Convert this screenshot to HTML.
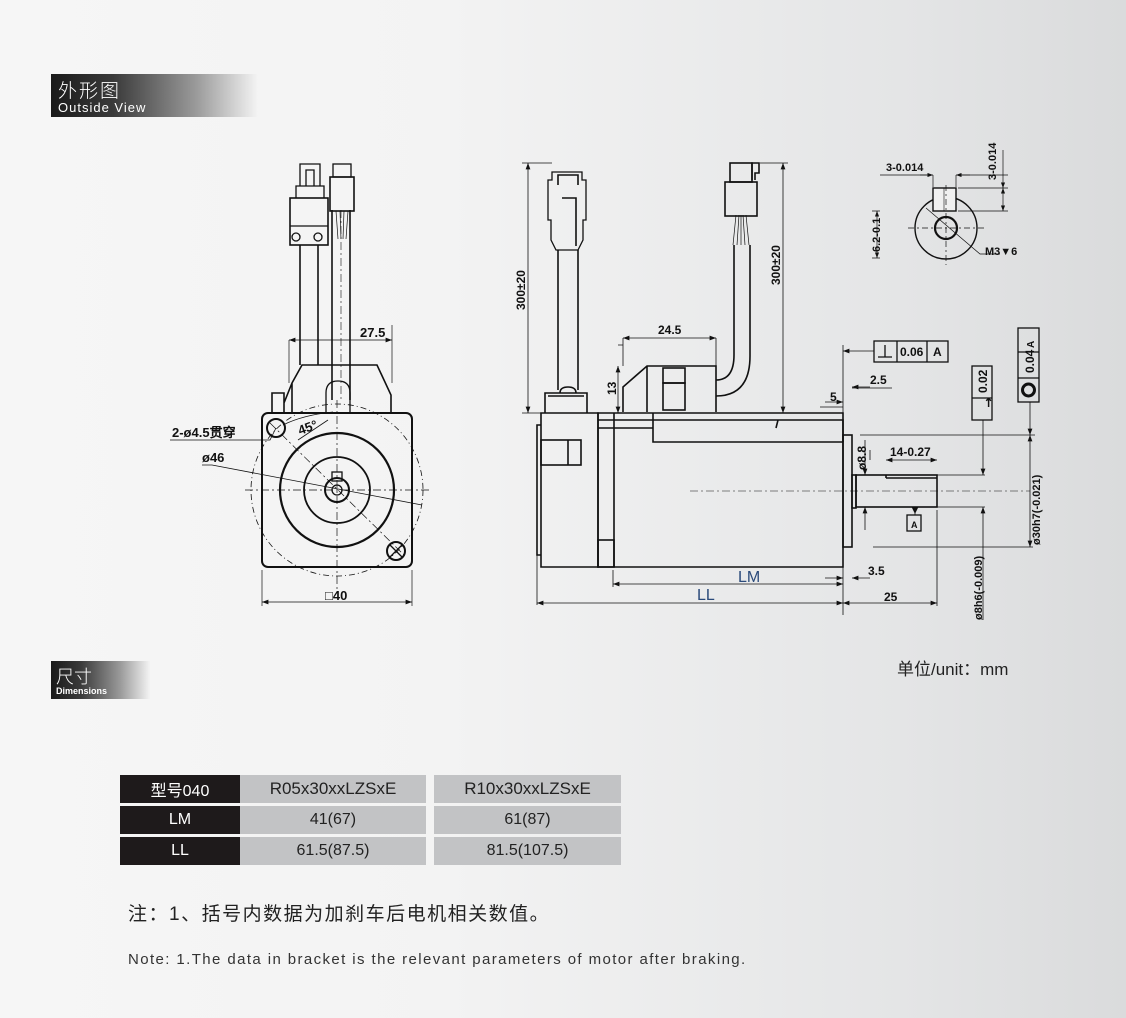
<!DOCTYPE html>
<html><head><meta charset="utf-8"><style>
html,body{margin:0;padding:0}
body{width:1126px;height:1018px;overflow:hidden;background:linear-gradient(90deg,#f6f6f6 0%,#f3f3f3 40%,#e4e5e6 80%,#dadbdc 100%);font-family:"Liberation Sans","Noto Sans CJK SC",sans-serif;position:relative}
.hdr{position:absolute;background:linear-gradient(90deg,#1a1a1a 0%,#3a3a3a 30%,#9a9a9a 70%,#f4f4f4 100%);color:#fff}
table{position:absolute;left:120px;top:772px;border-collapse:separate;border-spacing:0 3px;font-size:16px}
td{height:28px;text-align:center;padding:0}
.k{background:#1e1a1b;color:#fff;width:120px}
.g{background:#c2c3c5;color:#222}
</style></head><body>
<div class="hdr" style="left:51px;top:74px;width:207px;height:43px">
<div style="position:absolute;left:7px;top:2px;font-size:19px;font-family:'Noto Sans CJK SC',sans-serif;font-weight:300;letter-spacing:2px">外形图</div>
<div style="position:absolute;left:7px;top:26px;font-size:13px;letter-spacing:1px">Outside View</div></div>
<div class="hdr" style="left:51px;top:661px;width:99px;height:38px">
<div style="position:absolute;left:5px;top:2px;font-size:18px;font-family:'Noto Sans CJK SC',sans-serif;font-weight:300">尺寸</div>
<div style="position:absolute;left:5px;top:25px;font-size:9px;font-weight:bold">Dimensions</div></div>

<svg width="1126" height="1018" style="position:absolute;left:0;top:0" font-family="Liberation Sans Narrow,Liberation Sans,sans-serif" font-weight="bold" fill="none" stroke="#111">
<defs><marker id="a" markerWidth="8" markerHeight="6" refX="8" refY="3" orient="auto-start-reverse"><path d="M0,0L8,3L0,6" fill="#111" stroke="none"/></marker></defs>
<g stroke-width="1.3">
<rect x="262" y="413" width="150" height="154" rx="6" stroke-width="2"/>
<circle cx="337" cy="490" r="86" stroke-dasharray="6,3,1,3" stroke-width="0.8"/>
<circle cx="337" cy="490" r="57" stroke-width="2.2"/>
<circle cx="337" cy="490" r="33" stroke-width="1.8"/>
<circle cx="337" cy="490" r="12" stroke-width="2"/>
<circle cx="337" cy="490" r="5"/>
<rect x="332" y="472" width="10" height="9"/>
<line x1="337" y1="400" x2="337" y2="590" stroke-dasharray="8,3,2,3" stroke-width="0.7"/>
<line x1="245" y1="490" x2="430" y2="490" stroke-dasharray="8,3,2,3" stroke-width="0.7"/>
<line x1="270" y1="423" x2="405" y2="556" stroke-dasharray="8,3,2,3" stroke-width="0.7"/>
<circle cx="276" cy="428" r="9" stroke-width="2"/>
<circle cx="396" cy="551" r="9" stroke-width="2"/>
<path d="M390 545l12 12M402 545l-12 12"/>
<path d="M272 413v-20h12v20M284 403l8-20v30M292 383 302 365h75l14 30v18" stroke-width="1.6"/>
<path d="M326 413v-20q0-12 12-12t12 12v20"/>
<path d="M300 365V245M318 365V245M332 400V210M350 400V210" stroke-width="1.6"/>
<line x1="341" y1="210" x2="341" y2="400" stroke-dasharray="8,3,2,3" stroke-width="0.6"/>
<rect x="290" y="198" width="38" height="47" stroke-width="1.6"/>
<line x1="290" y1="226" x2="328" y2="226"/>
<circle cx="296" cy="237" r="4"/><circle cx="318" cy="237" r="4"/>
<path d="M296 198v-12h28v12M300 186v-22h20v22M306 186v-16h8v16"/>
<rect x="330" y="177" width="24" height="34" stroke-width="1.6"/>
<rect x="333" y="164" width="18" height="13"/>
<path d="M336 211l2 28M340 211l1 28M344 211l-1 28M348 211l-2 28" stroke-width="0.7"/>
<line x1="289" y1="340" x2="289" y2="383" stroke-width="0.7"/>
<line x1="392" y1="325" x2="392" y2="383" stroke-width="0.7"/>
<line x1="289" y1="340" x2="392" y2="340" stroke-width="0.8" marker-start="url(#a)" marker-end="url(#a)"/>
<line x1="262" y1="570" x2="262" y2="606" stroke-width="0.7"/><line x1="412" y1="570" x2="412" y2="606" stroke-width="0.7"/>
<line x1="262" y1="602" x2="412" y2="602" stroke-width="0.8" marker-start="url(#a)" marker-end="url(#a)"/>
<path d="M170 440h100l6-12" stroke-width="0.8"/>
<path d="M202 465h10l210 40" stroke-width="0.8"/>
<path d="M283 425q20-10 50-13" stroke-width="0.8"/>
<path d="M298 440l30 -20" stroke-width="0.8"/>
</g>
<g fill="#111" stroke="none" font-size="13">
<text x="360" y="337">27.5</text>
<text x="172" y="437">2-ø4.5贯穿</text>
<text x="202" y="462">ø46</text>
<text x="300" y="435" transform="rotate(-20 300 435)">45°</text>
<text x="325" y="600">□40</text>
</g>

<g stroke-width="1.6">
<path d="M541 413h57v154h-57z"/>
<path d="M541 425h-4v130h4"/>
<rect x="541" y="440" width="40" height="25"/><line x1="568" y1="440" x2="568" y2="465"/>
<path d="M598 413h245v154h-245zM614 413v154"/>
<path d="M598 420h245M598 428h55v14h190M653 428V413M776 428l2-8h65v22"/>
<rect x="598" y="540" width="16" height="27"/>
<rect x="843" y="435" width="9" height="112"/>
<rect x="852" y="475" width="4" height="33"/>
<rect x="856" y="475" width="81" height="32"/>
<path d="M886 478h51M886 475v3"/>
<path d="M545 413v-20h42v20M548 396h36M560 393q0-6 8-6t8 6"/>
<path d="M558 390V250M578 390V250"/>
<path d="M556 250l-5-10v-20h-3v-40h4v-8h30v8h4v40h-3v20l-5 10z" stroke-width="1.3"/>
<path d="M562 198h14v48M558 185v-10h20v10"/>
<path d="M623 412v-25l24-21h69v46M647 366v46"/>
<rect x="663" y="368" width="22" height="15"/><rect x="663" y="383" width="22" height="27"/>
<path d="M716 380q18 0 18-25V245M716 396q34 0 34-40V245"/>
<path d="M733 245l3-30M737 245l2-30M741 245v-30M745 245l-2-30M749 245l-3-30" stroke-width="0.7"/>
<rect x="725" y="182" width="32" height="34"/>
<rect x="730" y="163" width="22" height="19"/>
<path d="M752 180v-17h7v10h-4v7"/>
</g>
<g stroke-width="0.8">
<line x1="690" y1="491" x2="1030" y2="491" stroke-dasharray="8,3,2,3" stroke-width="0.6"/>
<path d="M522 163h30M522 413h20M760 163h28M760 413h28M843 345v270M537 555v50M937 510v96M613 570v17M618 345h5M618 413h5M873 547h160M860 435h175M860 475h125M860 507h125M870 460v-10M820 407h23M852 388h40"/>
<line x1="528" y1="163" x2="528" y2="413" marker-start="url(#a)" marker-end="url(#a)"/>
<line x1="783" y1="163" x2="783" y2="413" marker-start="url(#a)" marker-end="url(#a)"/>
<line x1="623" y1="338" x2="716" y2="338" marker-start="url(#a)" marker-end="url(#a)"/>
<line x1="623" y1="338" x2="623" y2="366"/><line x1="716" y1="338" x2="716" y2="366"/>
<line x1="618" y1="366" x2="618" y2="413" marker-start="url(#a)" marker-end="url(#a)"/>
<line x1="613" y1="584" x2="843" y2="584" marker-start="url(#a)" marker-end="url(#a)"/>
<line x1="537" y1="603" x2="843" y2="603" marker-start="url(#a)" marker-end="url(#a)"/>
<line x1="843" y1="603" x2="937" y2="603" marker-start="url(#a)" marker-end="url(#a)"/>
<line x1="874" y1="351" x2="843" y2="351" marker-end="url(#a)"/>
<line x1="825" y1="402" x2="843" y2="402" marker-end="url(#a)"/>
<line x1="870" y1="387" x2="852" y2="387" marker-end="url(#a)"/>
<line x1="825" y1="578" x2="843" y2="578" marker-end="url(#a)"/>
<line x1="870" y1="578" x2="852" y2="578" marker-end="url(#a)"/>
<line x1="886" y1="460" x2="937" y2="460" marker-start="url(#a)" marker-end="url(#a)"/>
<line x1="865" y1="440" x2="865" y2="475" marker-end="url(#a)"/>
<line x1="865" y1="530" x2="865" y2="507" marker-end="url(#a)"/>
<line x1="1030" y1="402" x2="1030" y2="435" marker-end="url(#a)"/>
<line x1="1030" y1="435" x2="1030" y2="547" marker-start="url(#a)" marker-end="url(#a)"/>
<line x1="983" y1="420" x2="983" y2="475" marker-end="url(#a)"/>
<line x1="983" y1="620" x2="983" y2="507" marker-end="url(#a)"/>
<line x1="915" y1="508" x2="915" y2="515"/>
<path d="M912 507h6l-3 6z" fill="#111"/>
</g>
<g stroke-width="1.3">
<rect x="874" y="341" width="74" height="21"/><path d="M897 341v21M927 341v21M878 357h14M885 345v12"/>
<rect x="972" y="366" width="20" height="54"/><path d="M972 398h20"/>
<rect x="1018" y="328" width="21" height="74"/><path d="M1018 352h21M1018 378h21"/>
<circle cx="1028.5" cy="390" r="6" stroke-width="3"/>
<rect x="907" y="515" width="14" height="16"/>
</g>
<g fill="#111" stroke="none" font-size="12">
<text x="900" y="356">0.06</text><text x="933" y="356">A</text>
<text x="658" y="334">24.5</text>
<text x="870" y="384">2.5</text><text x="830" y="401">5</text><text x="868" y="575">3.5</text>
<text x="884" y="601">25</text>
<text x="890" y="456">14-0.27</text>
<text x="911" y="528" font-size="9">A</text>
<text transform="translate(525 310) rotate(-90)">300±20</text>
<text transform="translate(780 285) rotate(-90)">300±20</text>
<text transform="translate(616 395) rotate(-90)">13</text>
<text transform="translate(866 470) rotate(-90)">ø8.8</text>
<text transform="translate(987 393) rotate(-90)">0.02</text>
<text transform="translate(1034 373) rotate(-90)">0.04</text>
<text transform="translate(1034 348) rotate(-90)" font-size="10">A</text>
<text transform="translate(1040 545) rotate(-90)" font-size="11">ø30h7(-0.021)</text>
<text transform="translate(982 620) rotate(-90)" font-size="11">ø8h6(-0.009)</text>
<text x="987" y="413" transform="rotate(-45 982 410)">↗</text>
</g>
<text x="738" y="582" fill="#2a4a7a" stroke="none" font-size="16" font-weight="normal" font-family="Liberation Sans,sans-serif">LM</text>
<text x="697" y="600" fill="#2a4a7a" stroke="none" font-size="16" font-weight="normal" font-family="Liberation Sans,sans-serif">LL</text>

<g stroke-width="1.4">
<circle cx="946" cy="228" r="31"/>
<circle cx="946" cy="228" r="11" stroke-width="2.2"/>
<rect x="933" y="188" width="23" height="23" fill="#f0f0f0"/>
<path d="M944 188v23" stroke-width="0.6"/>
</g>
<g stroke-width="0.7">
<path d="M908 228h76M946 185v80" stroke-dasharray="6,3,2,3"/>
<path d="M880 175h50M958 175h50M933 175v12M956 175v12M958 188h50M880 211h-8M958 211h50M880 258h-8M926 208l54 46h20"/>
<line x1="877" y1="211" x2="877" y2="258" marker-start="url(#a)" marker-end="url(#a)"/>
<line x1="1003" y1="188" x2="1003" y2="211" marker-start="url(#a)" marker-end="url(#a)"/>
<line x1="1003" y1="150" x2="1003" y2="188" marker-end="url(#a)"/>
<line x1="920" y1="175" x2="933" y2="175" marker-end="url(#a)"/>
<line x1="970" y1="175" x2="956" y2="175" marker-end="url(#a)"/>
</g>
<g fill="#111" stroke="none" font-size="11">
<text x="886" y="171">3-0.014</text>
<text x="985" y="255">M3▼6</text>
<text transform="translate(880 252) rotate(-90)">6.2-0.1</text>
<text transform="translate(996 180) rotate(-90)">3-0.014</text>
</g>
</svg>

<div style="position:absolute;left:897px;top:655px;font-size:17px;color:#222">单位/unit：mm</div>
<table>
<tr><td class="k">型号040</td><td class="g" style="width:186px;font-size:17px">R05x30xxLZSxE</td><td style="width:8px"></td><td class="g" style="width:187px;font-size:17px">R10x30xxLZSxE</td></tr>
<tr><td class="k">LM</td><td class="g">41(67)</td><td></td><td class="g">61(87)</td></tr>
<tr><td class="k">LL</td><td class="g">61.5(87.5)</td><td></td><td class="g">81.5(107.5)</td></tr>
</table>
<div style="position:absolute;left:128px;top:899px;font-size:19px;color:#222;letter-spacing:1.5px">注：1、括号内数据为加刹车后电机相关数值。</div>
<div style="position:absolute;left:128px;top:951px;font-size:15px;color:#333;letter-spacing:1.4px">Note: 1.The data in bracket is the relevant parameters of motor after braking.</div>
</body></html>
